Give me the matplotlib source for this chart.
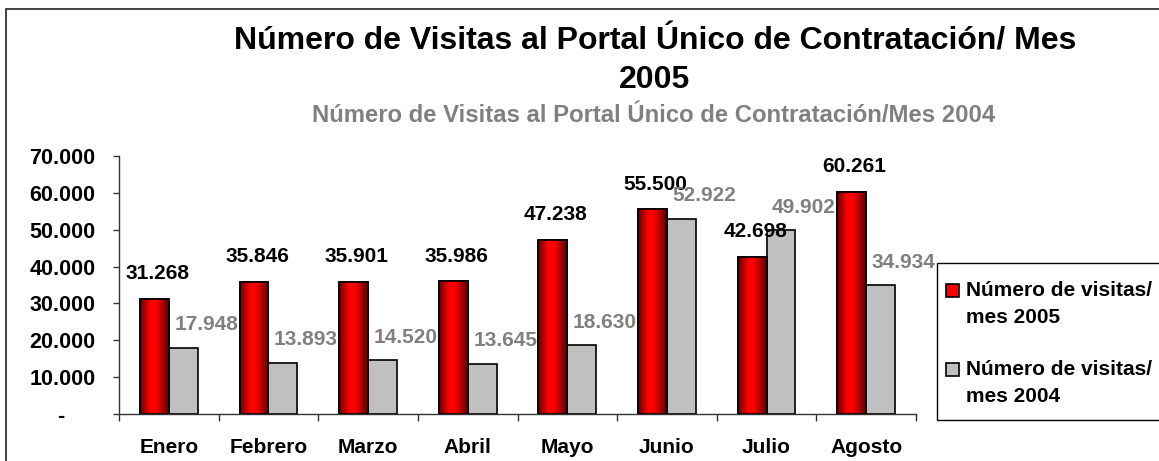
import numpy as np
import matplotlib
matplotlib.use("Agg")
import matplotlib.pyplot as plt
from matplotlib.colors import LinearSegmentedColormap
from matplotlib.patches import Rectangle

plt.rcParams["font.family"] = ["Liberation Sans", "DejaVu Sans"]
plt.rcParams["font.weight"] = "bold"

# data
months = ["Enero", "Febrero", "Marzo", "Abril", "Mayo", "Junio", "Julio", "Agosto"]
visits_2005 = [31268, 35846, 35901, 35986, 47238, 55500, 42698, 60261]
visits_2004 = [17948, 13893, 14520, 13645, 18630, 52922, 49902, 34934]
yticks = [0, 10000, 20000, 30000, 40000, 50000, 60000, 70000]
label_2005 = "Número de visitas/\nmes 2005"
label_2004 = "Número de visitas/\nmes 2004"

W, H = 1159, 461
fig = plt.figure(figsize=(W / 100, H / 100), dpi=100)
fig.patch.set_facecolor("white")


def fx(px):
    return px / W


def fy(py):
    return 1 - py / H


ax = fig.add_axes([fx(119), fy(414), fx(916) - fx(119), fy(156) - fy(414)])

x = np.arange(len(months))
bw = 0.29
red_bars = ax.bar(x - bw / 2, visits_2005, bw, color="#ff0000",
                  edgecolor="black", linewidth=1.2, zorder=2)
gray_bars = ax.bar(x + bw / 2, visits_2004, bw, color="#c0c0c0",
                   edgecolor="black", linewidth=1.2, zorder=2)

# shaded red like the office chart
red_cmap = LinearSegmentedColormap.from_list(
    "redshade", [(0, "#6a0000"), (0.35, "#ff0000"), (0.55, "#ff0000"), (1, "#5a0000")])
grad = np.linspace(0, 1, 64).reshape(1, -1)
for b in red_bars:
    bx, bwid, bh = b.get_x(), b.get_width(), b.get_height()
    im = ax.imshow(grad, extent=[bx, bx + bwid, 0, bh], aspect="auto",
                   cmap=red_cmap, zorder=2.1, interpolation="bilinear")
    im.set_clip_path(b)
    ax.add_patch(Rectangle((bx, 0), bwid, bh, fill=False, edgecolor="black",
                           linewidth=1.2, zorder=2.2))

ax.set_xlim(-0.5, len(months) - 0.5)
ax.set_ylim(0, 70000)

# value labels
for b, v in zip(red_bars, visits_2005):
    ax.annotate(f"{v:,}".replace(",", "."), (b.get_x() + b.get_width() / 2, v),
                xytext=(3, 25), textcoords="offset pixels", ha="center", va="center",
                fontsize=15, fontweight="bold", color="black", zorder=3)
for b, v in zip(gray_bars, visits_2004):
    ax.annotate(f"{v:,}".replace(",", "."), (b.get_x() + b.get_width() / 2, v),
                xytext=(23, 23), textcoords="offset pixels", ha="center", va="center",
                fontsize=15, fontweight="bold", color="#808080", zorder=3)

for s in ["top", "right"]:
    ax.spines[s].set_visible(False)
for s in ["left", "bottom"]:
    ax.spines[s].set_linewidth(1.0)
    ax.spines[s].set_color("#333333")

ax.set_yticks(yticks)
ax.set_yticklabels(["-     " if t == 0 else f"{t:,}".replace(",", ".") for t in yticks])
ax.tick_params(axis="y", direction="out", length=4, width=1, pad=13,
               labelsize=15.5, colors="#333333", labelcolor="black")

ax.set_xticks(np.arange(-0.5, len(months)), labels=[""] * (len(months) + 1))
ax.set_xticks(x, labels=months, minor=True)
ax.tick_params(axis="x", which="major", direction="out", length=5, width=1, colors="#333333")
ax.tick_params(axis="x", which="minor", length=0, pad=17, labelsize=15, labelcolor="black")
for lab in ax.get_xticklabels(minor=True) + ax.get_yticklabels():
    lab.set_fontweight("bold")

# titles
fig.text(fx(655), fy(49), "Número de Visitas al Portal Único de Contratación/ Mes",
         ha="center", va="baseline", fontsize=23, fontweight="bold")
fig.text(fx(655), fy(88), "2005", ha="center", va="baseline", fontsize=23,
         fontweight="bold")
fig.text(fx(654), fy(122), "Número de Visitas al Portal Único de Contratación/Mes 2004",
         ha="center", va="baseline", fontsize=17.2, fontweight="bold", color="#808080")

# outer frame
fig.patches.append(Rectangle((fx(6), fy(470)), fx(1170) - fx(6), fy(9) - fy(470),
                             transform=fig.transFigure, fill=False,
                             edgecolor="#222222", linewidth=1.2))

# legend box, drawn by hand so the swatch sits on the first line
fig.patches.append(Rectangle((fx(937), fy(420)), fx(1170) - fx(937), fy(263) - fy(420),
                             transform=fig.transFigure, facecolor="white",
                             edgecolor="black", linewidth=1.0, zorder=5))
for ypx, col, lab in [(290, "#ff0000", label_2005), (369, "#c0c0c0", label_2004)]:
    fig.patches.append(Rectangle((fx(946), fy(ypx + 7)), fx(13), fy(0) - fy(13),
                                 transform=fig.transFigure, facecolor=col,
                                 edgecolor="black", linewidth=1.2, zorder=6))
    # baseline of a two-line text is that of its last line
    fig.text(fx(966), fy(ypx + 33), lab, ha="left", va="baseline", fontsize=15,
             fontweight="bold", linespacing=1.55, zorder=6)

fig.savefig("out.png", dpi=100)
